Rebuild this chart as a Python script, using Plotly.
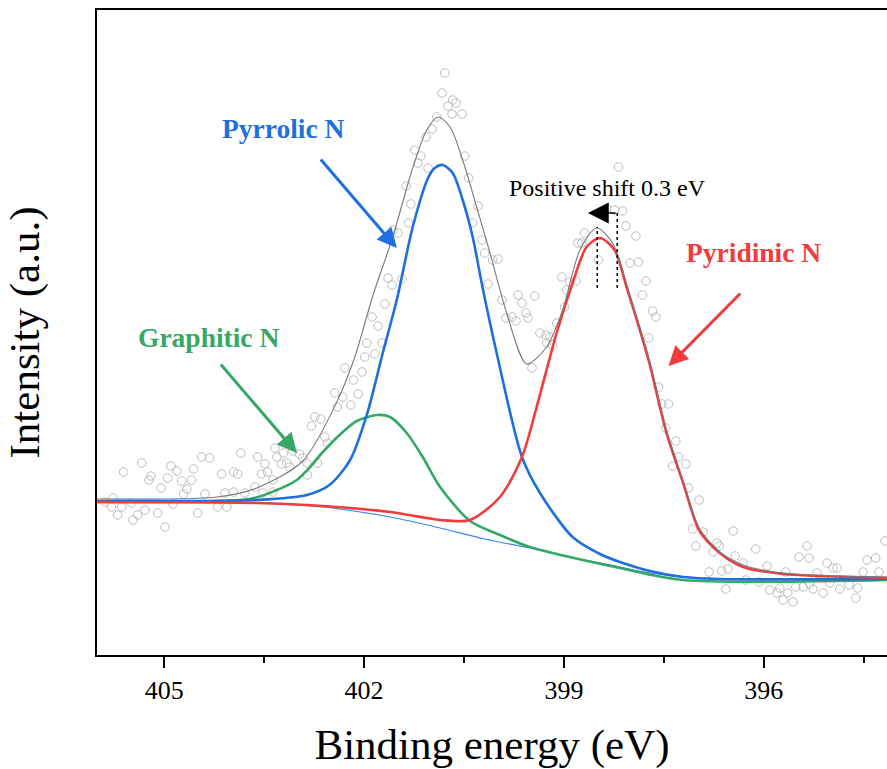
import plotly.graph_objects as go

# ---- N 1s spectrum: measured points (binding energy / eV, intensity / a.u.) ----
raw_be = [
    405.89, 405.79, 405.77, 405.70, 405.64, 405.61, 405.49, 405.47, 405.40, 405.34,
    405.29, 405.23, 405.20, 405.10, 405.05, 404.99, 404.95, 404.90, 404.87, 404.81,
    404.74, 404.71, 404.66, 404.59, 404.56, 404.50, 404.44, 404.39, 404.32, 404.20,
    404.14, 404.09, 404.06, 403.96, 403.96, 403.90, 403.85, 403.79, 403.64, 403.60,
    403.54, 403.52, 403.49, 403.45, 403.37, 403.37, 403.34, 403.31, 403.24, 403.21,
    403.16, 403.12, 403.07, 402.97, 402.92, 402.86, 402.85, 402.79, 402.74, 402.70,
    402.65, 402.59, 402.55, 402.44, 402.40, 402.32, 402.29, 402.20, 402.16, 402.09,
    402.03, 401.99, 401.96, 401.88, 401.84, 401.79, 401.73, 401.69, 401.64, 401.58,
    401.57, 401.49, 401.43, 401.37, 401.33, 401.30, 401.24, 401.19, 401.15, 401.07,
    401.04, 400.98, 400.91, 400.83, 400.79, 400.74, 400.68, 400.67, 400.62, 400.53,
    400.49, 400.43, 400.37, 400.29, 400.23, 400.19, 400.14, 400.07, 399.99, 399.93,
    399.87, 399.78, 399.72, 399.69, 399.63, 399.57, 399.54, 399.48, 399.44, 399.36,
    399.27, 399.26, 399.21, 399.17, 399.11, 399.03, 398.99, 398.96, 398.91, 398.82,
    398.79, 398.73, 398.69, 398.48, 398.36, 398.24, 398.18, 398.12, 398.07, 398.01,
    397.92, 397.88, 397.82, 397.77, 397.73, 397.67, 397.62, 397.58, 397.53, 397.47,
    397.43, 397.37, 397.32, 397.28, 397.17, 397.13, 397.07, 397.02, 396.97, 396.91,
    396.82, 396.76, 396.70, 396.67, 396.63, 396.57, 396.54, 396.46, 396.43, 396.31,
    396.27, 396.12, 396.07, 395.95, 395.91, 395.80, 395.76, 395.71, 395.67, 395.64,
    395.56, 395.52, 395.47, 395.41, 395.35, 395.32, 395.31, 395.26, 395.20, 395.11,
    395.05, 395.01, 394.96, 394.90, 394.86, 394.72, 394.62, 394.59, 394.51, 394.45,
    394.32, 394.27, 394.18,
]
raw_int = [
    153, 148, 157, 140, 148, 183, 152, 135, 140, 192,
    145, 175, 179, 142, 167, 128, 177, 189, 151, 184,
    174, 161, 166, 175, 186, 142, 198, 161, 197, 148,
    181, 162, 148, 183, 163, 181, 202, 162, 168, 198,
    181, 162, 191, 183, 175, 163, 207, 198, 191, 202,
    192, 188, 204, 201, 197, 192, 180, 229, 238, 192,
    236, 218, 212, 262, 248, 258, 287, 250, 275, 261,
    283, 298, 312, 338, 301, 329, 312, 351, 377, 370,
    425, 422, 376, 469, 432, 451, 505, 492, 499, 518,
    487, 526, 538, 562, 582, 549, 541, 555, 552, 541,
    499, 477, 432, 449, 415, 402, 371, 395, 396, 355,
    337, 338, 334, 360, 352, 342, 337, 287, 359, 322,
    320, 312, 318, 310, 332, 378, 348, 365, 373, 374,
    412, 412, 422, 395, 447, 445, 488, 444, 429, 392,
    419, 393, 360, 374, 317, 344, 338, 268, 251, 227,
    251, 189, 214, 198, 191, 167, 126, 109, 155, 123,
    83, 103, 112, 109, 84, 66, 86, 124, 99, 92,
    75, 106, 73, 89, 65, 62, 67, 55, 83, 62,
    53, 68, 98, 68, 109, 97, 71, 66, 82, 62,
    92, 72, 87, 87, 66, 70, 57, 67, 83, 95,
    97, 83, 114,
]

# ---- fitted envelope ----
env_be = [406.01, 404.21, 403.61, 402.92, 402.41, 402.14, 401.87, 401.57, 401.28, 401.06,
          400.89, 400.71, 400.52, 400.31, 400.11, 399.86, 399.56, 399.26, 399.02, 398.76,
          398.51, 398.27, 398.01, 397.71, 397.46, 397.21, 396.97, 396.66, 396.31, 395.71,
          394.15]
env_int = [156, 158, 167, 194, 253, 298, 359, 418, 485, 525,
           538, 528, 495, 448, 402, 342, 291, 308, 345, 405,
           427, 412, 360, 293, 225, 174, 127, 103, 90, 82,
           78]

# ---- Shirley background ----
bg_be = [406.01, 404.47, 403.61, 402.62, 401.61, 400.86, 400.19, 399.51, 398.84, 398.16,
         397.71, 397.21, 396.66, 394.15]
bg_int = [154, 153, 152, 148, 138, 127, 116, 107, 97, 88,
          82, 78, 76, 76]

# ---- components (each on top of the background) ----
pyrrolic_be = [406.01, 404.47, 403.61, 402.86, 402.52, 402.21, 401.96, 401.72, 401.51, 401.27,
               401.04, 400.94, 400.82, 400.67, 400.52, 400.37, 400.22, 400.01, 399.63, 399.36,
               398.87, 398.46, 398.16, 397.71, 397.21, 396.66, 394.15]
pyrrolic_int = [154, 154, 155, 160, 170, 195, 240, 302, 355, 428,
                477, 487, 490, 482, 455, 418, 367, 302, 198, 162,
                118, 101, 93, 84, 78, 76, 76]

pyridinic_be = [406.01, 403.61, 402.62, 401.61, 400.86, 400.41, 399.96, 399.63, 399.41, 399.11,
                398.87, 398.66, 398.46, 398.24, 398.06, 397.86, 397.71, 397.46, 397.21, 396.97,
                396.66, 396.31, 395.71, 394.15]
pyridinic_int = [153, 152, 149, 143, 135, 135, 158, 198, 248, 322,
                 372, 408, 417, 405, 368, 325, 290, 222, 172, 125,
                 102, 88, 81, 77]

graphitic_be = [406.01, 403.72, 403.42, 403.01, 402.81, 402.62, 402.32, 402.11, 401.81, 401.61,
                401.36, 401.12, 400.86, 400.41, 399.96, 399.51, 398.16, 397.21, 394.15]
graphitic_int = [153, 156, 162, 175, 188, 203, 223, 234, 240, 238,
                 222, 198, 168, 134, 120, 108, 87, 75, 75]

x_ticks = [405, 402, 399, 396]
x_minor = [403.5, 400.5, 397.5, 394.5]
x_range = [406.01, 394.15]
y_range = [0, 645]

# pyridinic N peak position before / after the shift
shift_from, shift_to = 398.2, 398.5

BLUE = "#1f6fdf"
RED = "#f03c3c"
GREEN = "#35a866"
SERIF = "Liberation Serif"

fig = go.Figure()

fig.add_trace(go.Scatter(
    x=raw_be, y=raw_int, mode="markers", name="Raw",
    marker=dict(symbol="circle-open", size=8.5, color="#bdbdbd", line=dict(width=1)),
))
fig.add_trace(go.Scatter(
    x=bg_be, y=bg_int, mode="lines", name="Background",
    line=dict(color="#3d86ee", width=1.2, shape="spline", smoothing=0.8),
))
fig.add_trace(go.Scatter(
    x=graphitic_be, y=graphitic_int, mode="lines", name="Graphitic N",
    line=dict(color=GREEN, width=2.6, shape="spline", smoothing=0.8),
))
fig.add_trace(go.Scatter(
    x=pyrrolic_be, y=pyrrolic_int, mode="lines", name="Pyrrolic N",
    line=dict(color=BLUE, width=2.6, shape="spline", smoothing=0.8),
))
fig.add_trace(go.Scatter(
    x=pyridinic_be, y=pyridinic_int, mode="lines", name="Pyridinic N",
    line=dict(color=RED, width=2.6, shape="spline", smoothing=0.8),
))
fig.add_trace(go.Scatter(
    x=env_be, y=env_int, mode="lines", name="Envelope",
    line=dict(color="#7a7a7a", width=1.1, shape="spline", smoothing=0.8),
))

# dotted markers of the pyridinic N peak positions
for pos, top in ((shift_to, 428), (shift_from, 442)):
    fig.add_shape(type="line", xref="x", yref="y", x0=pos, x1=pos, y0=367, y1=top,
                  line=dict(color="black", width=1.5, dash="dot"))

annotations = [
    dict(x=403.21, y=527, text="<b>Pyrrolic N</b>", showarrow=False,
         font=dict(family=SERIF, size=27.5, color=BLUE)),
    dict(x=404.33, y=318, text="<b>Graphitic N</b>", showarrow=False,
         font=dict(family=SERIF, size=27.5, color=GREEN)),
    dict(x=396.16, y=403, text="<b>Pyridinic N</b>", showarrow=False,
         font=dict(family=SERIF, size=27.5, color=RED)),
    dict(x=398.34, y=467, text="Positive shift 0.3 eV", showarrow=False,
         font=dict(family=SERIF, size=24, color="black")),
    # pointer arrows
    dict(x=401.51, y=407, ax=402.67, ay=497, axref="x", ayref="y", text="",
         showarrow=True, arrowhead=2, arrowsize=1.3, arrowwidth=3, arrowcolor=BLUE),
    dict(x=403.01, y=202, ax=404.17, ay=292, axref="x", ayref="y", text="",
         showarrow=True, arrowhead=2, arrowsize=1.3, arrowwidth=3, arrowcolor=GREEN),
    dict(x=397.43, y=289, ax=396.33, ay=363, axref="x", ayref="y", text="",
         showarrow=True, arrowhead=2, arrowsize=1.3, arrowwidth=3, arrowcolor=RED),
    dict(x=398.64, y=442, ax=shift_from, ay=442, axref="x", ayref="y", text="",
         showarrow=True, arrowhead=2, arrowsize=2.6, arrowwidth=1.6, arrowcolor="black"),
]
fig.update_layout(annotations=annotations)

fig.update_layout(
    width=887, height=769,
    margin=dict(l=97, r=0, t=10, b=114),
    paper_bgcolor="white", plot_bgcolor="white",
    showlegend=False,
    font=dict(family=SERIF, color="black"),
    xaxis=dict(
        range=x_range, autorange=False,
        tickmode="array", tickvals=x_ticks, ticktext=[str(t) for t in x_ticks],
        ticks="outside", ticklen=11, tickwidth=2, tickcolor="black",
        tickfont=dict(family=SERIF, size=26, color="black"),
        minor=dict(tickmode="array", tickvals=x_minor, ticks="outside",
                   ticklen=6, tickwidth=2, tickcolor="black"),
        showline=True, linewidth=2, linecolor="black", mirror=True,
        showgrid=False, zeroline=False,
        title=dict(text="Binding energy (eV)", standoff=26,
                   font=dict(family=SERIF, size=43, color="black")),
    ),
    yaxis=dict(
        range=y_range, autorange=False,
        showticklabels=False, ticks="",
        showline=True, linewidth=2, linecolor="black", mirror=False,
        showgrid=False, zeroline=False,
        title=dict(text="Intensity (a.u.)", standoff=42,
                   font=dict(family=SERIF, size=43, color="black")),
    ),
)

fig.write_html("out.html")
